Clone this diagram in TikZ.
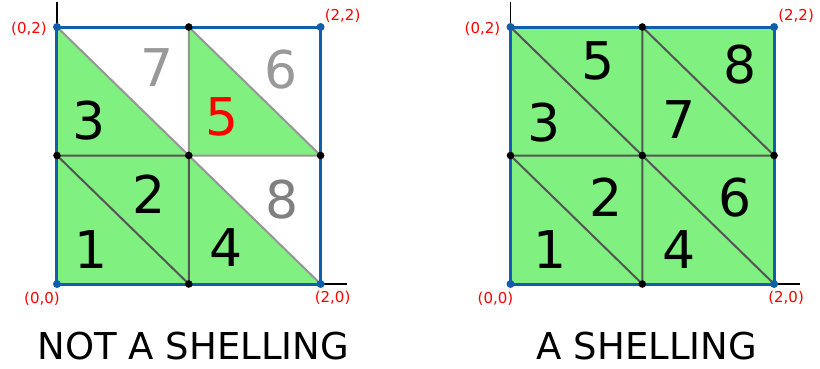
\documentclass[tikz,border=0pt]{standalone}
\usepackage{fontspec}
\setmainfont{DejaVu Sans}
\definecolor{cellgreen}{RGB}{128,240,128}
\definecolor{rimblue}{RGB}{16,94,172}
\definecolor{edgedark}{RGB}{85,85,85}
\definecolor{edgelight}{RGB}{150,150,150}
\definecolor{numlight}{RGB}{153,153,153}
\definecolor{numgray}{RGB}{128,128,128}
\begin{document}
\begin{tikzpicture}[x=131.8pt,y=128.5pt,
    num/.style={inner sep=0pt,font=\fontsize{52}{52}\selectfont},
    corner/.style={inner sep=0pt,text=red,font=\fontsize{15}{15}\selectfont},
    caption/.style={inner sep=0pt,font=\fontsize{37}{37}\selectfont},
    rim/.style={rimblue,line width=3pt},
    edge/.style={line width=2pt},
    axis/.style={black,line width=1.5pt}]
  \useasboundingbox (-57pt,-84pt) rectangle (763pt,284pt);
  \foreach \shift/\side in {0/L,453.5/R}{
    \begin{scope}[xshift=\shift pt]
      \foreach \i in {0,1,2}{
        \foreach \j in {0,1,2}{
          \coordinate (\side\i\j) at (\i,\j);
        }
      }
    \end{scope}
  }
  % green triangles
  \foreach \a/\b/\c in {L00/L10/L01,L10/L11/L01,L01/L11/L02,L12/L11/L21,L11/L10/L20}
    \fill[cellgreen] (\a) -- (\b) -- (\c) -- cycle;
  \fill[cellgreen] (R00) rectangle (R22);
  % axes, edges, boundary, vertices
  \foreach \side/\title/\upper in {L/{NOT A SHELLING}/edgelight,R/{A SHELLING}/edgedark}{
    \draw[axis] (\side00) -- ++(0,2.195);
    \draw[axis] (\side00) -- ++(2.2,0);
    \draw[edge,edgedark] (\side01) -- (\side10) (\side01) -- (\side11) (\side11) -- (\side10);
    \draw[edge,\upper] (\side02) -- (\side11) (\side12) -- (\side11) (\side12) -- (\side21)
      (\side11) -- (\side21) (\side11) -- (\side20);
    \draw[rim] (\side00) rectangle (\side22);
    \foreach \v in {01,10,11,12,21}
      \fill[black] (\side\v) circle (3.8pt);
    \foreach \v in {00,02,20,22}
      \fill[rimblue] (\side\v) circle (4pt);
    \node[corner] (\side-c00) at ([shift={(-15pt,-15pt)}]\side00) {(0,0)};
    \node[corner] (\side-c20) at ([shift={(12pt,-14pt)}]\side20) {(2,0)};
    \node[corner] (\side-c02) at ([shift={(-28pt,-1.5pt)}]\side02) {(0,2)};
    \node[corner] (\side-c22) at ([shift={(22pt,11pt)}]\side22) {(2,2)};
    \node[caption] (\side-title) at ([shift={(1.035,-0.486)}]\side00) {\title};
  }
  % cell numbers
  \foreach \x/\y/\n/\c in {0.258/0.272/1/black,0.698/0.70/2/black,0.243/1.268/3/black,
      1.282/0.280/4/black,1.252/1.300/5/red,1.70/1.665/6/numlight,0.759/1.681/7/numlight,
      1.707/0.654/8/numgray}
    \node[num,text=\c] (L-n\n) at (\x,\y) {\n};
  \begin{scope}[xshift=453.5pt]
    \foreach \x/\y/\n in {0.30/0.265/1,0.725/0.677/2,0.254/1.253/3,1.278/0.265/4,
        0.664/1.735/5,1.703/0.669/6,1.278/1.276/7,1.741/1.704/8}
      \node[num] (R-n\n) at (\x,\y) {\n};
  \end{scope}
\end{tikzpicture}
\end{document}
